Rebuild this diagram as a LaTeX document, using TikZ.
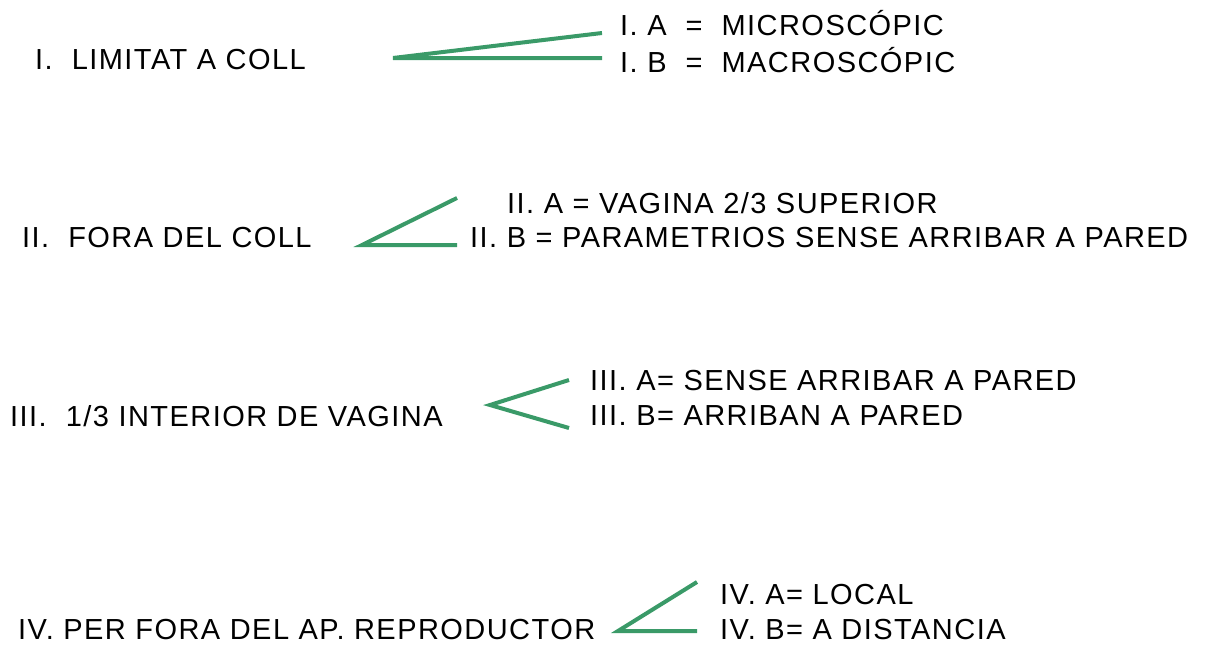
\documentclass[tikz,border=0pt]{standalone}
\usepackage{fontspec}
\setmainfont[LetterSpace=5]{Liberation Sans}
\usetikzlibrary{positioning}
\definecolor{verd}{RGB}{58,154,104}

\begin{document}
\begin{tikzpicture}[x=1pt,y=-1pt,font=\fontsize{29}{33}\selectfont,
 etiq/.style={anchor=west,inner sep=0pt},
 branca/.style={draw=verd,line width=4pt}]

 \useasboundingbox (0,0) rectangle (1209,645);

 % I
 \node[etiq] (i) at (35,60) {I.\ \ LIMITAT A COLL};
 \node[etiq] (ia) at (620,23) {I.\ A \ = \ MICROSCÓPIC};
 \node[etiq] (ib) at (620,60) {I.\ B \ = \ MACROSCÓPIC};
 \coordinate (i_0) at (393,58);
 \coordinate (i_a) at (602,33);
 \coordinate (i_b) at (602,58);
 \draw[branca] (i_a) -- (i_0) -- (i_b);

 % II
 \node[etiq] (ii) at (22,238) {II.\ \ FORA DEL COLL};
 \node[etiq] (iia) at (507,203) {II.\ A = VAGINA 2/3 SUPERIOR};
 \node[etiq] (iib) at (470,238) {II.\ B = PARAMETRIOS SENSE ARRIBAR A PARED};
 \coordinate (ii_0) at (362,245);
 \coordinate (ii_a) at (457,198);
 \coordinate (ii_b) at (457,245);
 \draw[branca] (ii_a) -- (ii_0) -- (ii_b);

 % III
 \node[etiq] (iii) at (10,416) {III.\ \ 1/3 INTERIOR DE VAGINA};
 \node[etiq] (iiia) at (590,381) {III.\ A= SENSE ARRIBAR A PARED};
 \node[etiq] (iiib) at (590,416) {III.\ B= ARRIBAN A PARED};
 \coordinate (iii_0) at (490,405);
 \coordinate (iii_a) at (569,380);
 \coordinate (iii_b) at (569,428);
 \draw[branca] (iii_a) -- (iii_0) -- (iii_b);

 % IV
 \node[etiq] (iv) at (18,630) {IV.\ PER FORA DEL AP.\ REPRODUCTOR};
 \node[etiq] (iva) at (720,595) {IV.\ A= LOCAL};
 \node[etiq] (ivb) at (720,630) {IV.\ B= A DISTANCIA};
 \coordinate (iv_0) at (618,631);
 \coordinate (iv_a) at (697,582);
 \coordinate (iv_b) at (697,631);
 \draw[branca] (iv_a) -- (iv_0) -- (iv_b);

\end{tikzpicture}
\end{document}
